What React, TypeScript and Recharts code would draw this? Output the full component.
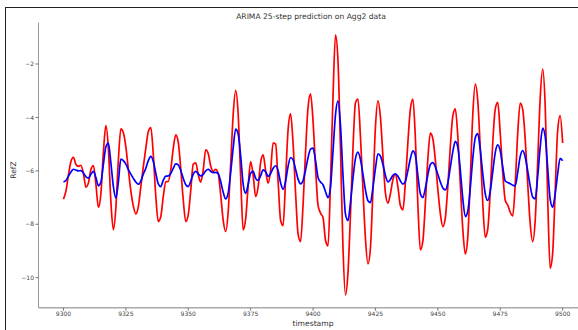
import React from 'react';
import { LineChart, Line, XAxis, YAxis } from 'recharts';

// ARIMA output, one value per timestamp from 9300 to 9500
const actualRefZ = [
    -7.06, -6.75, -6.15, -5.65, -5.49, -5.76, -5.83, -5.79, -6.10, -6.61,
    -6.45, -5.95, -5.80, -6.50, -7.37, -6.85, -5.30, -4.31, -5.17, -7.16,
    -8.21, -7.38, -5.60, -4.43, -4.57, -5.10, -5.95, -6.75, -7.32, -7.61,
    -7.34, -6.59, -5.84, -5.15, -4.53, -4.38, -5.40, -6.95, -7.90, -7.71,
    -6.96, -6.41, -6.40, -5.96, -5.15, -4.65, -4.93, -5.92, -7.09, -7.90,
    -7.65, -6.73, -5.75, -5.70, -6.15, -6.42, -5.97, -5.21, -5.35, -5.82,
    -6.02, -5.94, -6.10, -6.90, -7.85, -8.27, -7.53, -5.74, -3.89, -2.99,
    -3.88, -6.23, -8.21, -7.80, -6.57, -5.65, -6.16, -6.96, -6.60, -5.68,
    -5.40, -5.99, -6.46, -5.98, -4.95, -5.00, -6.40, -7.85, -8.05, -6.32,
    -4.46, -3.87, -4.97, -6.83, -8.36, -8.65, -7.27, -5.28, -3.62, -3.12,
    -4.14, -5.87, -7.29, -7.58, -7.75, -8.60, -8.81, -6.40, -3.20, -0.91,
    -1.90, -5.20, -8.90, -10.64, -9.80, -7.63, -5.14, -3.45, -3.31, -4.73,
    -6.70, -8.55, -9.48, -8.87, -6.70, -4.36, -3.38, -3.99, -5.45, -6.83,
    -7.21, -6.85, -6.33, -6.11, -6.60, -7.31, -7.46, -6.42, -4.93, -3.68,
    -3.31, -4.78, -7.27, -8.96, -8.62, -7.21, -5.55, -4.59, -4.80, -5.60,
    -6.69, -7.60, -8.09, -7.76, -6.57, -5.09, -3.94, -3.68, -4.71, -6.50,
    -8.19, -9.11, -8.47, -6.31, -3.89, -2.75, -3.38, -5.16, -7.22, -8.48,
    -8.18, -6.77, -4.95, -3.69, -3.44, -4.60, -6.07, -7.10, -7.28, -7.55,
    -7.69, -6.50, -4.60, -3.46, -3.70, -4.81, -6.47, -7.97, -8.65, -7.87,
    -5.68, -3.29, -2.19, -3.53, -6.97, -9.65, -9.08, -6.79, -4.50, -3.93,
    -4.96,
];

const predictedRefZ = [
    -6.42, -6.36, -6.20, -6.04, -5.94, -5.97, -6.00, -5.99, -6.08, -6.22,
    -6.27, -6.13, -6.02, -6.25, -6.56, -6.42, -5.76, -5.10, -4.96, -5.70,
    -6.59, -7.02, -6.41, -5.56, -5.62, -5.75, -5.95, -6.12, -6.28, -6.42,
    -6.50, -6.38, -6.12, -5.90, -5.62, -5.46, -5.65, -6.09, -6.49, -6.59,
    -6.35, -6.20, -6.19, -6.10, -5.90, -5.74, -5.78, -5.99, -6.28, -6.52,
    -6.59, -6.39, -6.12, -6.02, -6.11, -6.19, -6.13, -6.00, -5.94, -6.02,
    -6.07, -6.06, -6.10, -6.40, -6.80, -7.05, -6.83, -6.06, -5.14, -4.44,
    -4.62, -5.44, -6.50, -6.84, -6.50, -6.09, -6.02, -6.28, -6.36, -6.18,
    -5.96, -6.03, -6.21, -6.10, -5.90, -5.81, -6.00, -6.45, -6.69, -6.39,
    -5.83, -5.50, -5.59, -5.94, -6.31, -6.49, -6.36, -5.97, -5.50, -5.19,
    -5.15, -5.62, -6.25, -6.42, -6.52, -6.78, -7.00, -6.60, -5.26, -3.89,
    -3.38, -4.30, -6.16, -7.63, -7.86, -7.17, -6.27, -5.53, -5.30, -5.58,
    -6.13, -6.72, -7.12, -7.19, -6.62, -5.91, -5.36, -5.45, -5.76, -6.17,
    -6.41, -6.32, -6.17, -6.11, -6.20, -6.38, -6.50, -6.39, -5.99, -5.54,
    -5.25, -5.43, -6.18, -6.86, -7.00, -6.65, -6.15, -5.76, -5.69, -5.85,
    -6.13, -6.42, -6.64, -6.71, -6.45, -5.86, -5.28, -4.90, -5.11, -5.97,
    -7.04, -7.71, -7.51, -6.64, -5.54, -4.76, -4.61, -5.21, -6.11, -6.86,
    -7.11, -6.76, -6.03, -5.32, -5.03, -5.25, -5.85, -6.38, -6.44, -6.48,
    -6.54, -6.56, -6.06, -5.46, -5.24, -5.48, -6.00, -6.56, -6.98, -7.05,
    -6.22, -5.12, -4.40, -4.70, -5.88, -7.06, -7.36, -6.87, -6.12, -5.53,
    -5.62,
];

const firstTimestamp = 9300;
const xTicks = [9300, 9325, 9350, 9375, 9400, 9425, 9450, 9475, 9500];
const yTicks = [-10, -8, -6, -4, -2];

const data = actualRefZ.map((v, i) => ({
    timestamp: firstTimestamp + i,
    actual: v,
    predicted: predictedRefZ[i],
}));

const font = '"DejaVu Sans", sans-serif';
const tickStyle = { fontSize: 6, fill: '#444', fontFamily: font };

function fmtY(v: number) {
    return v < 0 ? '\u2212' + Math.abs(v) : String(v);
}

function ArimaChart() {
    return (
        <div
            style={{
                position: 'fixed',
                left: 0,
                top: 0,
                width: 578,
                height: 330,
                overflow: 'hidden',
                background: '#fff',
                fontFamily: font,
            }}
        >
            {/* figure frame */}
            <div
                style={{
                    position: 'absolute',
                    left: 5,
                    top: 7,
                    width: 600,
                    height: 400,
                    borderLeft: '1.3px solid #222',
                    borderTop: '1.3px solid #222',
                }}
            />
            <div
                style={{
                    position: 'absolute',
                    left: 311,
                    top: 16.7,
                    transform: 'translate(-50%, -50%)',
                    fontSize: 7.6,
                    lineHeight: 1,
                    color: '#333',
                    whiteSpace: 'nowrap',
                }}
            >
                ARIMA 25-step prediction on Agg2 data
            </div>
            <div style={{ position: 'absolute', left: 0, top: 0 }}>
                <LineChart
                    width={600}
                    height={330}
                    data={data}
                    margin={{ top: 22.7, right: 12.4, left: 0, bottom: 0 }}
                >
                    <XAxis
                        dataKey="timestamp"
                        type="number"
                        domain={[9290, 9510]}
                        ticks={xTicks}
                        height={22.3}
                        tickSize={3}
                        tickMargin={1}
                        tick={tickStyle}
                        stroke="#999"
                        axisLine={{ stroke: '#aaa', strokeWidth: 1.5 }}
                        tickLine={{ stroke: '#777' }}
                    />
                    <XAxis
                        xAxisId="top"
                        dataKey="timestamp"
                        type="number"
                        domain={[9290, 9510]}
                        orientation="top"
                        height={0}
                        tick={false}
                        tickLine={false}
                        axisLine={{ stroke: '#999' }}
                    />
                    <YAxis
                        type="number"
                        domain={[-11.123, -0.454]}
                        allowDataOverflow
                        ticks={yTicks}
                        width={38.5}
                        tickSize={3}
                        tickMargin={1.5}
                        tick={tickStyle}
                        tickFormatter={fmtY}
                        axisLine={{ stroke: '#999' }}
                        tickLine={{ stroke: '#777' }}
                    />
                    <Line
                        type="monotone"
                        dataKey="actual"
                        stroke="#ff0000"
                        strokeWidth={1.7}
                        dot={false}
                        isAnimationActive={false}
                    />
                    <Line
                        type="monotone"
                        dataKey="predicted"
                        stroke="#0000ff"
                        strokeWidth={1.7}
                        dot={false}
                        isAnimationActive={false}
                    />
                </LineChart>
            </div>
            <div
                style={{
                    position: 'absolute',
                    left: 313,
                    top: 324.3,
                    transform: 'translate(-50%, -50%)',
                    fontSize: 7.6,
                    lineHeight: 1,
                    color: '#333',
                }}
            >
                timestamp
            </div>
            <div
                style={{
                    position: 'absolute',
                    left: 14.3,
                    top: 170,
                    transform: 'translate(-50%, -50%) rotate(-90deg)',
                    fontSize: 7.6,
                    lineHeight: 1,
                    color: '#333',
                }}
            >
                RefZ
            </div>
        </div>
    );
}

export default ArimaChart;
